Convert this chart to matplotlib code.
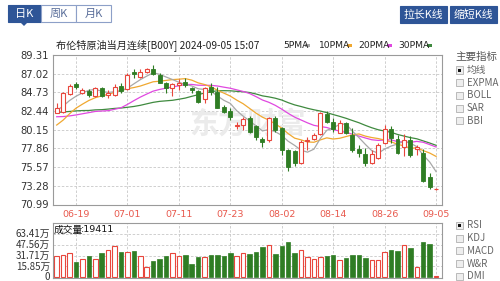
import numpy as np
import pandas as pd
import matplotlib
matplotlib.use("Agg")
import matplotlib.pyplot as plt
from matplotlib.patches import Rectangle, Polygon

plt.rcParams['font.family'] = ['Noto Sans CJK SC', 'DejaVu Sans']

# ---------------- data ----------------
opens = [82.25, 82.37, 84.53, 85.72, 84.61, 84.90, 84.29, 85.23, 84.37, 84.41,
         85.51, 85.10, 87.19, 86.66, 87.27, 87.55, 86.86, 85.84, 85.23, 85.63,
         86.04, 85.23, 84.94, 83.88, 85.43, 84.82, 82.98, 82.45, 80.62, 80.74,
         81.55, 80.61, 79.02, 78.90, 81.55, 80.33, 77.67, 77.55, 76.04, 78.78,
         79.06, 79.59, 82.08, 81.14, 79.80, 81.02, 79.51, 77.75, 77.14, 76.04,
         76.65, 78.49, 80.20, 78.98, 78.08, 78.90, 77.80, 77.26, 74.33, 72.88]
highs = [83.39, 84.82, 85.72, 86.04, 85.23, 85.10, 85.35, 85.43, 85.02, 85.72,
         85.84, 87.06, 87.55, 87.55, 87.76, 88.08, 87.06, 86.04, 85.92, 86.33,
         86.45, 85.43, 85.02, 85.43, 85.92, 85.43, 83.19, 82.78, 81.14, 81.67,
         81.84, 80.74, 79.22, 81.76, 81.84, 80.45, 77.75, 77.67, 78.90, 79.22,
         79.80, 82.37, 82.45, 81.55, 81.35, 81.14, 80.33, 78.28, 77.88, 77.67,
         78.49, 80.73, 80.61, 79.51, 79.59, 79.39, 78.28, 77.75, 74.81, 73.00]
lows = [82.16, 82.25, 84.41, 85.10, 84.49, 84.21, 84.12, 84.21, 84.00, 84.29,
        84.70, 85.02, 86.45, 86.53, 87.06, 86.86, 85.84, 84.70, 84.29, 85.02,
        85.35, 84.70, 83.47, 83.47, 84.41, 82.78, 82.16, 81.35, 80.20, 80.12,
        79.71, 78.90, 78.00, 78.69, 79.92, 77.06, 75.10, 75.71, 75.96, 77.67,
        78.90, 79.51, 80.94, 79.92, 79.71, 79.63, 77.47, 76.86, 75.75, 75.96,
        76.53, 78.37, 78.57, 77.18, 76.94, 76.86, 77.06, 73.80, 72.85, 72.80]
closes = [82.78, 84.61, 85.51, 85.43, 84.98, 84.37, 85.23, 84.33, 84.70, 85.43,
          84.94, 86.86, 86.94, 87.27, 87.60, 86.98, 85.92, 85.31, 85.72, 85.92,
          85.63, 85.02, 83.59, 85.23, 84.82, 82.78, 82.37, 81.67, 80.78, 81.47,
          79.92, 79.22, 78.65, 81.63, 80.12, 77.67, 75.63, 76.12, 78.69, 78.90,
          79.51, 82.16, 81.14, 80.20, 81.02, 79.80, 77.67, 77.26, 76.04, 77.14,
          78.28, 80.20, 79.10, 77.26, 78.90, 77.06, 78.08, 73.88, 73.10, 72.95]
# volume in 万 (10k lots)
volumes = [30.3, 32.8, 35.7, 23.0, 26.9, 31.3, 26.9, 34.7, 40.1, 45.0,
           36.7, 36.7, 38.6, 30.3, 15.2, 24.0, 26.4, 31.3, 35.7, 30.3,
           32.8, 20.1, 28.9, 28.9, 32.8, 32.8, 30.3, 35.2, 30.3, 35.7,
           34.3, 36.7, 44.1, 47.5, 33.3, 45.5, 51.4, 35.8, 40.2, 29.4,
           26.0, 29.4, 30.9, 31.8, 24.5, 28.4, 32.8, 32.8, 28.4, 25.5,
           24.5, 36.7, 39.2, 38.2, 46.5, 42.6, 14.7, 51.4, 48.0, 1.9411]
# closes before the first visible day (only used to seed the moving averages)
prior_closes = [83.16, 83.53, 83.36, 83.78, 84.08, 82.99, 83.56, 82.58, 82.95, 83.47,
                84.18, 83.91, 83.08, 82.10, 81.56, 82.32, 83.30, 83.80, 82.06, 81.31,
                78.56, 77.72, 78.61, 80.07, 79.82, 81.83, 82.12, 82.80, 82.95]

tick_labels = ['06-19', '07-01', '07-11', '07-23', '08-02', '08-14', '08-26', '09-05']
tick_index = [3, 11, 19, 27, 35, 43, 51, 59]
price_ticks = [89.31, 87.02, 84.73, 82.44, 80.15, 77.86, 75.57, 73.28, 70.99]
vol_ticks = [63.41, 47.56, 31.71, 15.85, 0]
vol_tick_labels = ['63.41万', '47.56万', '31.71万', '15.85万', '0']
ma_periods = [5, 10, 20, 30]
ma_names = ['5PMA', '10PMA', '20PMA', '30PMA']

# ---------------- styles ----------------
RED = '#e8463c'
GREEN = '#2f7d24'
MA_COLORS = ['#a8a8a8', '#f0a830', '#e048e0', '#3f8a3f']
GRID = '#c8c8c8'
FRAME = '#9a9a9a'
BLUE = '#2e5597'
TXT = '#333333'
NARROW = ['Liberation Sans Narrow', 'DejaVu Sans']

n = len(closes)
x = np.arange(n)
o = np.array(opens); h = np.array(highs); l = np.array(lows); c = np.array(closes)
up = c >= o

all_closes = pd.Series(prior_closes + closes)
mas = [all_closes.rolling(p).mean().to_numpy()[len(prior_closes):] for p in ma_periods]

fig = plt.figure(figsize=(5.0, 2.81), dpi=100)
W, H = 500.0, 281.0

def fx(px):
    return px / W

def fy(py):
    return 1 - py / H

XL = (-0.575, 59.92)

# ---------------- main price axes ----------------
ax = fig.add_axes([fx(53), fy(204.5), fx(442 - 53), (204.5 - 55) / H])
ax.set_xlim(*XL)
ax.set_ylim(70.99, 89.31)
for p in price_ticks[1:-1]:
    ax.axhline(p, color=GRID, lw=0.6, ls=(0, (3, 2)), zorder=0)
for t in tick_index:
    ax.axvline(t, color=GRID, lw=0.6, ls=(0, (3, 2)), zorder=0)

# watermark
ax.text(0.5, 0.54, '东方财富', transform=ax.transAxes, fontsize=21, fontweight='bold',
        color='#ebebeb', ha='center', va='center', zorder=0.5)

for ma, col in zip(mas[::-1], MA_COLORS[::-1]):
    ax.plot(x, ma, color=col, lw=0.9, zorder=1)

bw = 0.62
for i in range(n):
    col = RED if up[i] else GREEN
    ax.vlines(x[i], l[i], h[i], color=col, lw=0.8, zorder=2)
    lo, hi = min(o[i], c[i]), max(o[i], c[i])
    bh = max(hi - lo, 0.06)
    if up[i]:
        ax.add_patch(Rectangle((x[i] - bw / 2, lo), bw, bh, facecolor='white',
                               edgecolor=RED, lw=0.8, zorder=3))
    else:
        ax.add_patch(Rectangle((x[i] - bw / 2, lo), bw, bh, facecolor=GREEN,
                               edgecolor=GREEN, lw=0.6, zorder=3))

ax.set_yticks(price_ticks)
ax.set_yticklabels([f'{p:.2f}' for p in price_ticks], fontsize=7.2, color=TXT,
                   family='DejaVu Sans')
ax.set_xticks(tick_index)
ax.set_xticklabels(tick_labels, fontsize=6.8, color='#e8584c', family='DejaVu Sans')
ax.tick_params(axis='both', length=0, pad=3)
ax.tick_params(axis='x', pad=4)
for s in ax.spines.values():
    s.set_color(FRAME)
    s.set_linewidth(0.8)

# ---------------- volume axes ----------------
av = fig.add_axes([fx(53), fy(278), fx(442 - 53), (278 - 222.7) / H])
av.set_xlim(*XL)
av.set_ylim(-0.9, 79.25)
for t in tick_index:
    av.axvline(t, color=GRID, lw=0.6, ls=(0, (3, 2)), zorder=0)
for vt in vol_ticks[:-1]:
    av.axhline(vt, color=GRID, lw=0.6, ls=(0, (3, 2)), zorder=0)
vw = 0.7
for i in range(n):
    if up[i]:
        av.bar(x[i], volumes[i], width=vw, facecolor='white', edgecolor=RED, lw=0.8, zorder=2)
    else:
        av.bar(x[i], volumes[i], width=vw, facecolor=GREEN, edgecolor=GREEN, lw=0.5, zorder=2)
av.set_yticks(vol_ticks)
av.set_yticklabels(vol_tick_labels, fontsize=7, color=TXT)
for lab in av.get_yticklabels():
    lab.set_va('center')
av.set_xticks([])
av.tick_params(axis='y', length=0, pad=2)
for s in av.spines.values():
    s.set_color(FRAME)
    s.set_linewidth(0.8)
fig.text(fx(54), fy(230), '成交量', fontsize=7, color='#111111', ha='left', va='center')
fig.text(fx(80.5), fy(230), f':{int(round(volumes[-1] * 10000))}', fontsize=6.8,
         color='#111111', ha='left', va='center', family='DejaVu Sans')

# ---------------- title and legend ----------------
fig.text(fx(56), fy(45), '布伦特原油当月连续[B00Y] 2024-09-05 15:07', fontsize=7.3,
         color='#222222', ha='left', va='center')
leg_x = [283, 319, 358, 398]
for lx, name in zip(leg_x, ma_names):
    fig.text(fx(lx), fy(45), name, fontsize=6.6, color='#222222', ha='left',
             va='center', family=NARROW)
legend_dash_x = [305, 347, 387, 427]
for dx, col in zip(legend_dash_x, MA_COLORS):
    fig.patches.append(Rectangle((fx(dx), fy(46.5)), fx(5), 2.5 / H, transform=fig.transFigure,
                                 facecolor=col, edgecolor='none'))

# ---------------- top tabs / buttons ----------------
def box(x0, y0, w, h, fc, ec):
    fig.patches.append(Rectangle((fx(x0), fy(y0 + h)), fx(w), h / H, transform=fig.transFigure,
                                 facecolor=fc, edgecolor=ec, lw=0.8))

box(8, 5, 33, 17, BLUE, BLUE)
box(41, 5, 35, 17, 'white', '#8da0c8')
box(76, 5, 35, 17, 'white', '#8da0c8')
fig.text(fx(24.5), fy(13.5), '日K', fontsize=8, color='white', ha='center', va='center')
fig.text(fx(58.5), fy(13.5), '周K', fontsize=8, color='#5a6e9a', ha='center', va='center')
fig.text(fx(93.5), fy(13.5), '月K', fontsize=8, color='#5a6e9a', ha='center', va='center')
fig.patches.append(Polygon([(fx(20), fy(22)), (fx(28), fy(22)), (fx(24), fy(26))],
                           closed=True, transform=fig.transFigure, facecolor=BLUE, edgecolor='none'))

box(400, 6, 47, 17, BLUE, BLUE)
box(450, 6, 47, 17, BLUE, BLUE)
fig.text(fx(423.5), fy(14.5), '拉长K线', fontsize=7.8, color='white', ha='center', va='center')
fig.text(fx(473.5), fy(14.5), '缩短K线', fontsize=7.8, color='white', ha='center', va='center')

# ---------------- right side panels ----------------
fig.text(fx(455), fy(57), '主要指标', fontsize=7.6, color='#555555', ha='left', va='center')
main_ind = ['均线', 'EXPMA', 'BOLL', 'SAR', 'BBI']
sub_ind = ['RSI', 'KDJ', 'MACD', 'W&R', 'DMI']

def checkbox(py, label, checked):
    fig.patches.append(Rectangle((fx(456), fy(py + 3.5)), fx(7), 7 / H, transform=fig.transFigure,
                                 facecolor='#eeeeee', edgecolor='#b0b0b0', lw=0.6))
    if checked:
        fig.patches.append(Rectangle((fx(458), fy(py + 1.5)), fx(3), 3 / H,
                                     transform=fig.transFigure, facecolor='#111111',
                                     edgecolor='none'))
    fig.text(fx(467), fy(py), label, fontsize=7, color='#666666', ha='left', va='center')

for k, lab in enumerate(main_ind):
    checkbox(70 + 12.7 * k, lab, k == 0)
for k, lab in enumerate(sub_ind):
    checkbox(225.5 + 12.7 * k, lab, k == 0)

fig.savefig('out.png', dpi=100)
